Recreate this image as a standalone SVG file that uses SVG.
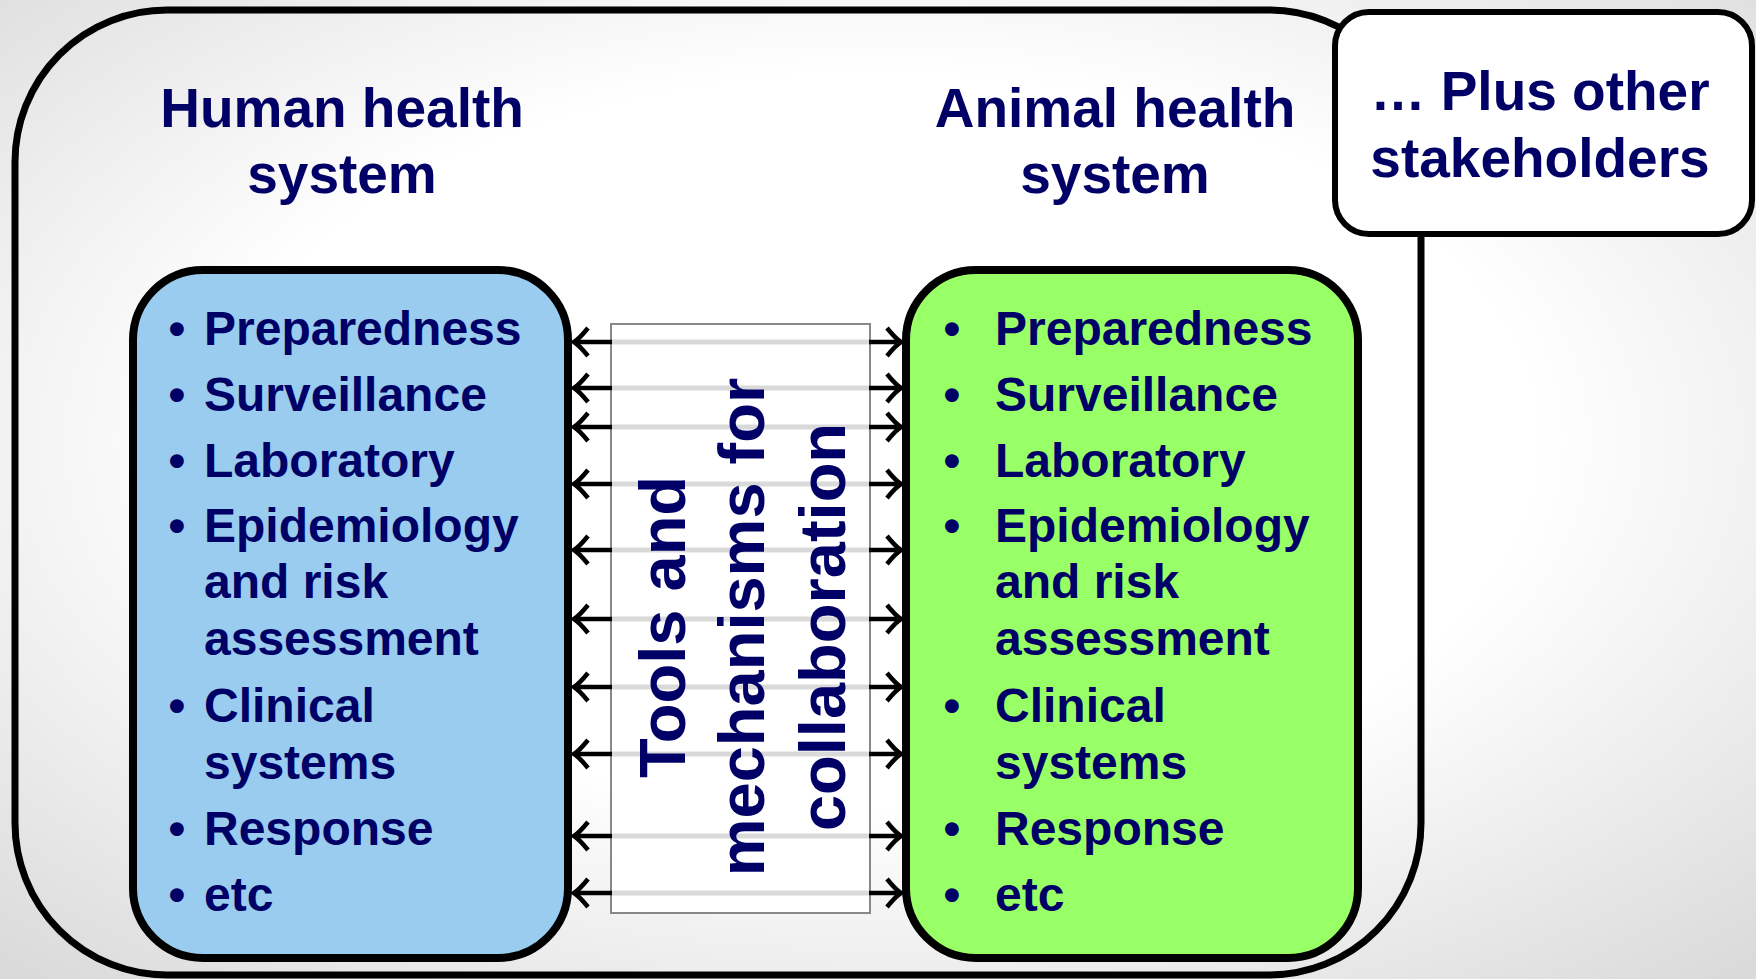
<svg xmlns="http://www.w3.org/2000/svg" width="1756" height="979" viewBox="0 0 1756 979">
<defs>
<radialGradient id="bg" cx="0.5" cy="0.45" r="0.75">
<stop offset="0.5" stop-color="#ffffff"/>
<stop offset="1" stop-color="#d8d8d8"/>
</radialGradient>
<marker id="ah" viewBox="-18 -18 22 36" markerWidth="22" markerHeight="36" refX="0" refY="0" orient="auto" markerUnits="userSpaceOnUse">
<path d="M-14,-14 Q-5,-3 0,0 Q-5,3 -14,14" fill="none" stroke="#000" stroke-width="4.5"/>
</marker>
<style>
.t{font-family:"Liberation Sans",Arial,sans-serif;font-weight:bold;fill:#000066}
.h{font-size:55px;text-anchor:middle}
.l{font-size:48px}
.b{font-size:48px;text-anchor:middle}
.v{font-size:65px;text-anchor:middle}
.box{stroke:#000;stroke-width:8}
.sh{stroke:#000;stroke-width:4.5;marker-end:url(#ah)}
.gl{stroke:#d9d9d9;stroke-width:5}
</style>
</defs>
<rect width="1756" height="979" fill="url(#bg)"/>

<g id="outer">
<rect x="15" y="10" width="1406" height="965" rx="152" ry="152" fill="none" stroke="#000" stroke-width="7"/>
</g>

<g id="stakeholders">
<rect x="1335" y="12" width="417" height="222" rx="34" ry="34" fill="#ffffff" stroke="#000" stroke-width="6"/>
<text class="t h" x="1540" y="110">… Plus other</text>
<text class="t h" x="1540" y="177">stakeholders</text>
</g>

<g id="human">
<text class="t h" x="342" y="127">Human health</text>
<text class="t h" x="342" y="193">system</text>
<rect class="box" x="133" y="270" width="435" height="688" rx="70" ry="70" fill="#99CCEE"/>
<g class="t">
<text class="b" x="177" y="345">•</text><text class="l" x="204" y="345">Preparedness</text>
<text class="b" x="177" y="411">•</text><text class="l" x="204" y="411">Surveillance</text>
<text class="b" x="177" y="477">•</text><text class="l" x="204" y="477">Laboratory</text>
<text class="b" x="177" y="542">•</text><text class="l" x="204" y="542">Epidemiology</text>
<text class="l" x="204" y="598">and risk</text>
<text class="l" x="204" y="655">assessment</text>
<text class="b" x="177" y="722">•</text><text class="l" x="204" y="722">Clinical</text>
<text class="l" x="204" y="779">systems</text>
<text class="b" x="177" y="845">•</text><text class="l" x="204" y="845">Response</text>
<text class="b" x="177" y="911">•</text><text class="l" x="204" y="911">etc</text>
</g>
</g>

<g id="animal">
<text class="t h" x="1115" y="127">Animal health</text>
<text class="t h" x="1115" y="193">system</text>
<rect class="box" x="906" y="270" width="452" height="688" rx="70" ry="70" fill="#99FF66"/>
<g class="t">
<text class="b" x="952" y="345">•</text><text class="l" x="995" y="345">Preparedness</text>
<text class="b" x="952" y="411">•</text><text class="l" x="995" y="411">Surveillance</text>
<text class="b" x="952" y="477">•</text><text class="l" x="995" y="477">Laboratory</text>
<text class="b" x="952" y="542">•</text><text class="l" x="995" y="542">Epidemiology</text>
<text class="l" x="995" y="598">and risk</text>
<text class="l" x="995" y="655">assessment</text>
<text class="b" x="952" y="722">•</text><text class="l" x="995" y="722">Clinical</text>
<text class="l" x="995" y="779">systems</text>
<text class="b" x="952" y="845">•</text><text class="l" x="995" y="845">Response</text>
<text class="b" x="952" y="911">•</text><text class="l" x="995" y="911">etc</text>
</g>
</g>

<g id="tools">
<rect x="611" y="324" width="259" height="589" fill="#ffffff" stroke="#888888" stroke-width="2"/>
<g class="gl">
<line x1="612" y1="342" x2="869" y2="342"/>
<line x1="612" y1="388" x2="869" y2="388"/>
<line x1="612" y1="427" x2="869" y2="427"/>
<line x1="612" y1="484" x2="869" y2="484"/>
<line x1="612" y1="550" x2="869" y2="550"/>
<line x1="612" y1="619" x2="869" y2="619"/>
<line x1="612" y1="687" x2="869" y2="687"/>
<line x1="612" y1="754" x2="869" y2="754"/>
<line x1="612" y1="836" x2="869" y2="836"/>
<line x1="612" y1="893" x2="869" y2="893"/>
</g>
<text class="t v" transform="translate(685,627) rotate(-90)">Tools and</text>
<text class="t v" transform="translate(764,627) rotate(-90)">mechanisms for</text>
<text class="t v" transform="translate(845,627) rotate(-90)">collaboration</text>
</g>

<g id="connectors">
<line class="sh" x1="612" y1="342" x2="574" y2="342"/>
<line class="sh" x1="612" y1="388" x2="574" y2="388"/>
<line class="sh" x1="612" y1="427" x2="574" y2="427"/>
<line class="sh" x1="612" y1="484" x2="574" y2="484"/>
<line class="sh" x1="612" y1="550" x2="574" y2="550"/>
<line class="sh" x1="612" y1="619" x2="574" y2="619"/>
<line class="sh" x1="612" y1="687" x2="574" y2="687"/>
<line class="sh" x1="612" y1="754" x2="574" y2="754"/>
<line class="sh" x1="612" y1="836" x2="574" y2="836"/>
<line class="sh" x1="612" y1="893" x2="574" y2="893"/>
<line class="sh" x1="869" y1="342" x2="901" y2="342"/>
<line class="sh" x1="869" y1="388" x2="901" y2="388"/>
<line class="sh" x1="869" y1="427" x2="901" y2="427"/>
<line class="sh" x1="869" y1="484" x2="901" y2="484"/>
<line class="sh" x1="869" y1="550" x2="901" y2="550"/>
<line class="sh" x1="869" y1="619" x2="901" y2="619"/>
<line class="sh" x1="869" y1="687" x2="901" y2="687"/>
<line class="sh" x1="869" y1="754" x2="901" y2="754"/>
<line class="sh" x1="869" y1="836" x2="901" y2="836"/>
<line class="sh" x1="869" y1="893" x2="901" y2="893"/>
</g>
</svg>
